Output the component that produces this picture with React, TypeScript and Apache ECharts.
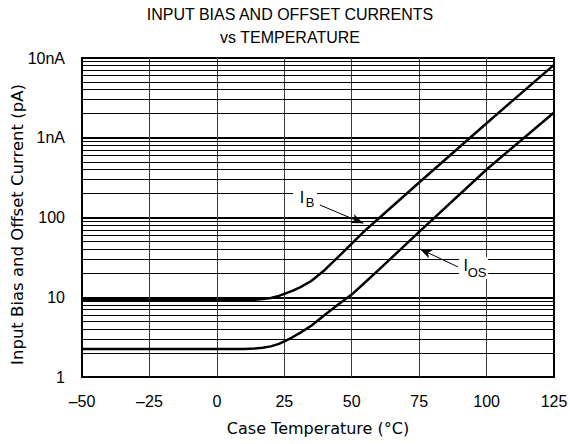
import React, { useEffect, useRef } from 'react';
import * as echarts from 'echarts';

// ---- data ----
const temperatures = [-50, -25, 0, 10, 14, 17, 20, 23, 25, 28, 31, 35, 40, 45, 50, 55, 60, 75, 100, 125];
const biasCurrent = [9.2, 9.2, 9.2, 9.2, 9.3, 9.5, 9.8, 10.4, 11.0, 12.0, 13.4, 16, 22, 32, 47, 69, 97, 275, 1520, 8200];
const offsetCurrent = [2.25, 2.25, 2.25, 2.25, 2.27, 2.32, 2.42, 2.6, 2.8, 3.15, 3.6, 4.4, 6.0, 8.1, 10.8, 15.4, 22, 66, 400, 2070];
const yTickLabels = ['1', '10', '100', '1nA', '10nA'];
const minorGridValues = [
  2, 3, 4, 5, 6, 7, 8, 9,
  20, 30, 40, 50, 60, 70, 80, 90,
  200, 300, 400, 500, 600, 700, 800, 900,
  2000, 3000, 4000, 5000, 6000, 7000, 8000, 9000,
];

// annotation anchors (data coordinates: [°C, pA])
const ibLabelAt = [32.7, 176];
const ibArrowFrom = [38.2, 143.5];
const ibArrowTo = [54.3, 84.5];
const iosLabelAt = [95.2, 23.3];
const iosArrowFrom = [89.4, 24];
const iosArrowTo = [75.3, 40.3];

const FONT = "'Liberation Sans', Arial, Helvetica, sans-serif";
const NAME_FONT = "'DejaVu Sans', 'Liberation Sans', sans-serif";

export default function App() {
  const ref = useRef<HTMLDivElement>(null);

  useEffect(() => {
    if (!ref.current) return;
    const chart = echarts.init(ref.current, undefined, { renderer: 'svg' });
    const labelStyle = { fontFamily: FONT, color: '#000' };
    chart.setOption({
      animation: false,
      backgroundColor: '#fff',
      title: {
        text: 'INPUT BIAS AND OFFSET CURRENTS\nvs TEMPERATURE',
        left: 290,
        top: 3,
        padding: 0,
        textAlign: 'center',
        textStyle: { fontFamily: FONT, fontSize: 16, fontWeight: 'normal', color: '#000', lineHeight: 23 },
      },
      grid: {
        left: 82, right: 16, top: 58, bottom: 67,
        containLabel: false, outerBoundsMode: 'none',
        show: true, borderColor: '#000', borderWidth: 2, backgroundColor: 'transparent',
      },
      xAxis: {
        type: 'value', min: -50, max: 125, interval: 25,
        axisLine: { show: false }, axisTick: { show: false },
        axisLabel: {
          margin: 16, fontSize: 16, ...labelStyle,
          formatter: (v: number) => (v < 0 ? '\u2013' + Math.abs(v) : String(v)),
        },
        splitLine: { show: true, showMinLine: false, showMaxLine: false, lineStyle: { color: '#3a3a3a', width: 1 } },
        name: 'Case Temperature (°C)', nameLocation: 'middle', nameGap: 43, nameMoveOverlap: false,
        nameTextStyle: { fontFamily: NAME_FONT, fontSize: 16, color: '#000' },
      },
      yAxis: {
        type: 'log', logBase: 10, min: 1, max: 10000,
        axisLine: { show: false }, axisTick: { show: false },
        axisLabel: {
          margin: 17, fontSize: 16, ...labelStyle,
          formatter: (v: number) => yTickLabels[Math.round(Math.log10(v))] ?? '',
        },
        splitLine: { show: true, lineStyle: { color: '#000', width: 2 } },
        name: 'Input Bias and Offset Current (pA)', nameLocation: 'middle', nameGap: 56, nameMoveOverlap: false,
        nameTextStyle: { fontFamily: NAME_FONT, fontSize: 16.5, color: '#000', padding: [0, 14, 0, 0] },
      },
      series: [
        {
          type: 'line', data: [], silent: true,
          markLine: {
            silent: true, z: 1, symbol: ['none', 'none'],
            label: { show: false },
            lineStyle: { color: '#000', width: 1, type: 'solid' },
            emphasis: { disabled: true },
            data: minorGridValues.map((v) => ({ yAxis: v })),
          },
        },
        {
          name: 'IB', type: 'line', z: 3, showSymbol: false, smooth: false,
          lineStyle: { color: '#000', width: 2.5, join: 'round' },
          data: temperatures.map((t, i) => [t, biasCurrent[i]]),
        },
        {
          name: 'IOS', type: 'line', z: 3, showSymbol: false, smooth: false,
          lineStyle: { color: '#000', width: 2.5, join: 'round' },
          data: temperatures.map((t, i) => [t, offsetCurrent[i]]),
        },
        {
          type: 'line', data: [], z: 10, silent: true,
          markLine: {
            silent: true, z: 10, symbol: ['none', 'arrow'], symbolSize: [7, 12],
            label: { show: false },
            lineStyle: { color: '#000', width: 1, type: 'solid' },
            emphasis: { disabled: true },
            data: [
              [{ coord: ibArrowFrom }, { coord: ibArrowTo }],
              [{ coord: iosArrowFrom }, { coord: iosArrowTo }],
            ],
          },
          markPoint: {
            silent: true, z: 10,
            data: [
              { coord: ibLabelAt, symbol: 'rect', symbolSize: [24, 20], itemStyle: { color: '#fff' }, label: { show: false } },
              { coord: ibLabelAt, symbolSize: 0, label: { show: true, position: 'inside', formatter: 'I', fontSize: 16, offset: [-3, 0], ...labelStyle } },
              { coord: ibLabelAt, symbolSize: 0, label: { show: true, position: 'inside', formatter: 'B', fontSize: 13, offset: [5, 5], ...labelStyle } },
              { coord: iosLabelAt, symbol: 'rect', symbolSize: [29, 22], itemStyle: { color: '#fff' }, label: { show: false } },
              { coord: iosLabelAt, symbolSize: 0, label: { show: true, position: 'inside', formatter: 'I', fontSize: 16, offset: [-8, -2], ...labelStyle } },
              { coord: iosLabelAt, symbolSize: 0, label: { show: true, position: 'inside', formatter: 'OS', fontSize: 13, offset: [3.5, 4.5], ...labelStyle } },
            ],
          },
        },
      ],
    });
    return () => chart.dispose();
  }, []);

  return <div ref={ref} style={{ width: 570, height: 444, position: 'absolute', left: 0, top: 0 }} />;
}
